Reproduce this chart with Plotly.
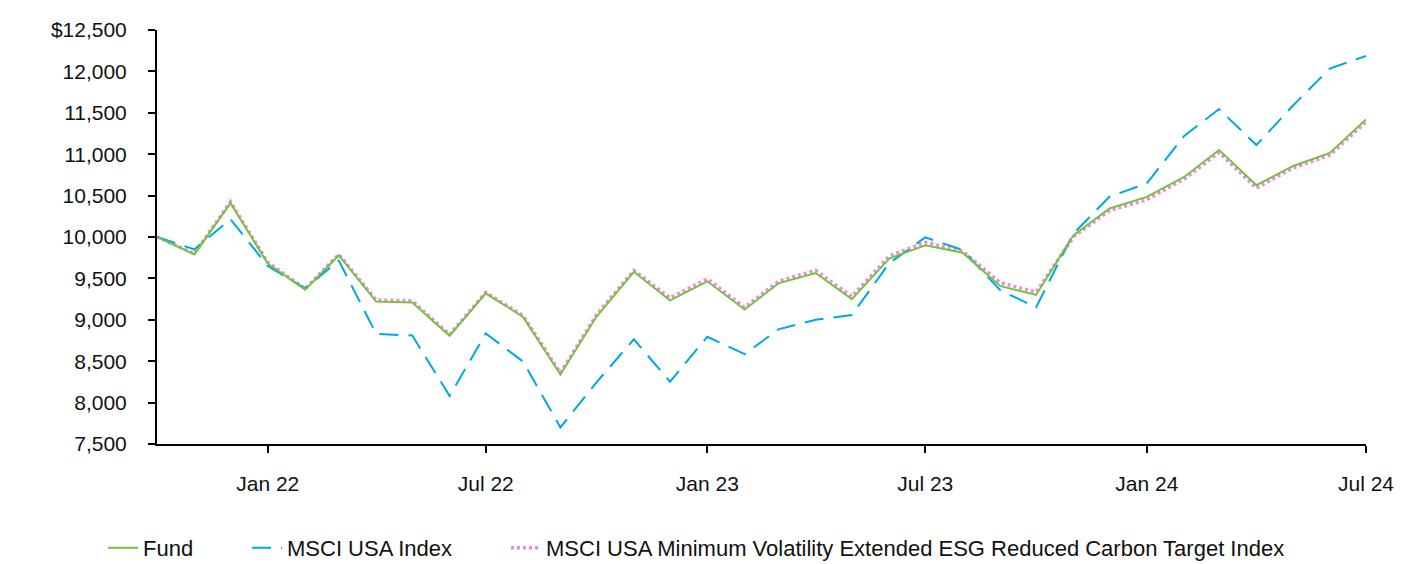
import plotly.graph_objects as go
import pandas as pd

dates = pd.date_range("2021-10-01", "2024-07-01", freq="MS").strftime("%Y-%m-%d").tolist()

fund = [10000, 9790, 10410, 9680, 9365, 9780, 9220, 9210, 8808, 9320,
        9035, 8340, 9040, 9580, 9235, 9465, 9125, 9440, 9565, 9250,
        9740, 9900, 9810, 9410, 9300, 10020, 10345, 10485, 10725, 11050,
        10625, 10855, 11015, 11420]

msci_usa = [10000, 9850, 10215, 9650, 9380, 9715, 8830, 8810, 8080, 8835,
            8495, 7700, 8245, 8765, 8252, 8795, 8585, 8885, 9000, 9058,
            9682, 9996, 9843, 9360, 9150, 10040, 10487, 10648, 11220, 11545,
            11110, 11582, 12035, 12186]

msci_minvol = [10000, 9800, 10425, 9695, 9375, 9790, 9240, 9230, 8822, 9332,
               9050, 8360, 9060, 9598, 9265, 9495, 9150, 9465, 9598, 9280,
               9770, 9935, 9830, 9450, 9335, 10000, 10320, 10450, 10700, 11020,
               10590, 10830, 10990, 11390]

names = ["Fund", "MSCI USA Index",
         "MSCI USA Minimum Volatility Extended ESG Reduced Carbon Target Index"]

x_tickvals = ["2022-01-01", "2022-07-01", "2023-01-01", "2023-07-01", "2024-01-01", "2024-07-01"]
x_ticktext = ["Jan 22", "Jul 22", "Jan 23", "Jul 23", "Jan 24", "Jul 24"]
y_tickvals = [7500, 8000, 8500, 9000, 9500, 10000, 10500, 11000, 11500, 12000, 12500]
y_ticktext = ["7,500", "8,000", "8,500", "9,000", "9,500", "10,000", "10,500",
              "11,000", "11,500", "12,000", "$12,500"]

FONT = "Liberation Sans, Arial, sans-serif"
# page body has an 8px margin, so the figure is drawn 8px in from the window edge
W, H = 1408, 556
L, R, T, B = 149, 50, 22, 120
PW, PH = W - L - R, H - T - B

def px_x(px):
    return (px - L) / PW

def px_y(py):
    return (H - B - py) / PH

fig = go.Figure()
fig.add_trace(go.Scatter(x=dates, y=msci_minvol, mode="lines", name=names[2],
                         line=dict(color="#F08AD8", width=3.5, dash="3px,3px"),
                         legend="legend3"))
fig.add_trace(go.Scatter(x=dates, y=msci_usa, mode="lines", name=names[1],
                         line=dict(color="#00A8E1", width=2, dash="19px,10px"),
                         legend="legend2"))
fig.add_trace(go.Scatter(x=dates, y=fund, mode="lines", name=names[0],
                         line=dict(color="#78C043", width=2),
                         legend="legend"))

leg_common = dict(orientation="h", yanchor="middle", xanchor="left",
                  font=dict(family=FONT, size=22, color="#111111"),
                  bgcolor="rgba(0,0,0,0)", itemwidth=30)

fig.update_layout(
    width=W, height=H,
    margin=dict(l=L, r=R, t=T, b=B, autoexpand=False),
    paper_bgcolor="white", plot_bgcolor="white",
    font=dict(family=FONT, size=21, color="#111111"),
    showlegend=True,
    legend=dict(x=px_x(95), y=px_y(540), **leg_common),
    legend2=dict(x=px_x(239), y=px_y(540), **leg_common),
    legend3=dict(x=px_x(498), y=px_y(540), **leg_common),
)
fig.update_xaxes(
    type="date", range=["2021-10-01", "2024-07-01"],
    tickvals=x_tickvals, ticktext=x_ticktext,
    showgrid=False, zeroline=False, automargin=False,
    showline=True, linecolor="black", linewidth=2,
    ticks="outside", ticklen=7, tickwidth=2, tickcolor="black",
    ticklabelstandoff=13,
)
fig.update_yaxes(
    range=[7500, 12500],
    tickvals=y_tickvals, ticktext=y_ticktext,
    showgrid=False, zeroline=False, automargin=False,
    showline=True, linecolor="black", linewidth=2,
    ticks="outside", ticklen=7, tickwidth=2, tickcolor="black",
    ticklabelstandoff=17,
)

fig.write_html("out.html")
